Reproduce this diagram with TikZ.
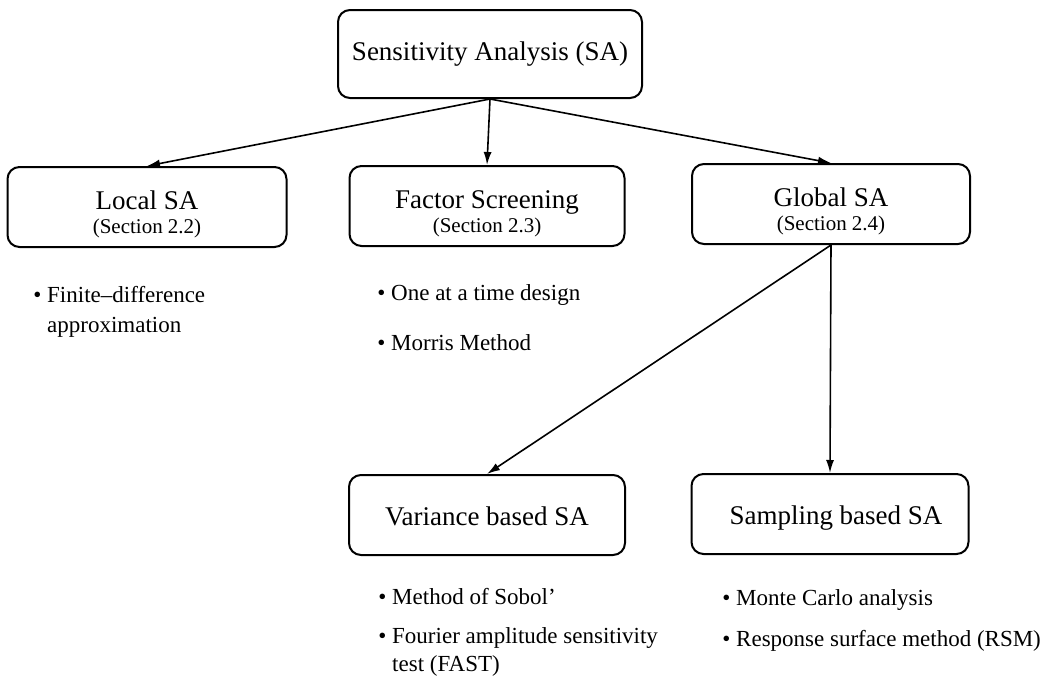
\documentclass[tikz,border=0pt]{standalone}
\usepackage{fontspec}
\setmainfont{Liberation Serif}
\usetikzlibrary{arrows.meta}
\begin{document}
\begin{tikzpicture}
[
x=0.5pt, y=-0.5pt,
sabox/.style={draw=black, line width=1pt, rounded corners=6pt, minimum height=40pt, align=center, inner sep=2pt},
bigfont/.style={font=\fontsize{13.5}{16}\selectfont},
item/.style={anchor=west, inner sep=0pt, align=left, font=\fontsize{11.5}{14}\selectfont},
arr/.style={draw=black, line width=0.8pt, -{Latex[length=6.5pt,width=4pt]}}
]
\useasboundingbox (0,0) rectangle (1057,696);
%Nodes
\node[sabox, bigfont, minimum width=152pt, minimum height=44pt] (sa) at(490,54) {Sensitivity Analysis (SA)};
\node[sabox, minimum width=139.5pt] (local) at(147,207) {{\fontsize{13.5}{16}\selectfont\rule{0pt}{17pt}Local SA}\\[0pt]{\fontsize{10.5}{12}\selectfont (Section 2.2)}};
\node[sabox, minimum width=137.5pt] (factor) at(487,206) {{\fontsize{13.5}{16}\selectfont\rule{0pt}{17pt}Factor Screening}\\[0pt]{\fontsize{10.5}{12}\selectfont (Section 2.3)}};
\node[sabox, minimum width=139pt] (global) at(831,204) {{\fontsize{13.5}{16}\selectfont\rule{0pt}{17pt}Global SA}\\[0pt]{\fontsize{10.5}{12}\selectfont (Section 2.4)}};
\node[sabox, bigfont, minimum width=138pt] (variance) at(487,515) {\rule[-4.8pt]{0pt}{20pt}Variance based SA};
\node[sabox, bigfont, minimum width=138.5pt] (sampling) at(830,514) {\rule[-4.8pt]{0pt}{20pt}\hspace{6pt}Sampling based SA};

%Bullets
\node[item, font=\fontsize{11.5}{15}\selectfont] (fd) at(33,312) {\textbullet\ Finite--difference\\\hphantom{\textbullet\ }approximation};
\node[item] (oat) at(377,295) {\textbullet\ One at a time design};
\node[item] (morris) at(377,343) {\textbullet\ Morris Method};
\node[item] (sobol) at(378,597) {\textbullet\ Method of Sobol'};
\node[item] (fast) at(378,652) {\textbullet\ Fourier amplitude sensitivity\\\hphantom{\textbullet\ }test (FAST)};
\node[item] (mc) at(722,600) {\textbullet\ Monte Carlo analysis};
\node[item] (rsm) at(722,641) {\textbullet\ Response surface method (RSM)};

%Arrows
\draw[arr] (sa.south) -- (local.north);
\draw[arr] (sa.south) -- (factor.north);
\draw[arr] (sa.south) -- (global.north);
\draw[arr] (global.south) -- (variance.north);
\draw[arr] (global.south) -- (sampling.north);

\end{tikzpicture}
\end{document}
